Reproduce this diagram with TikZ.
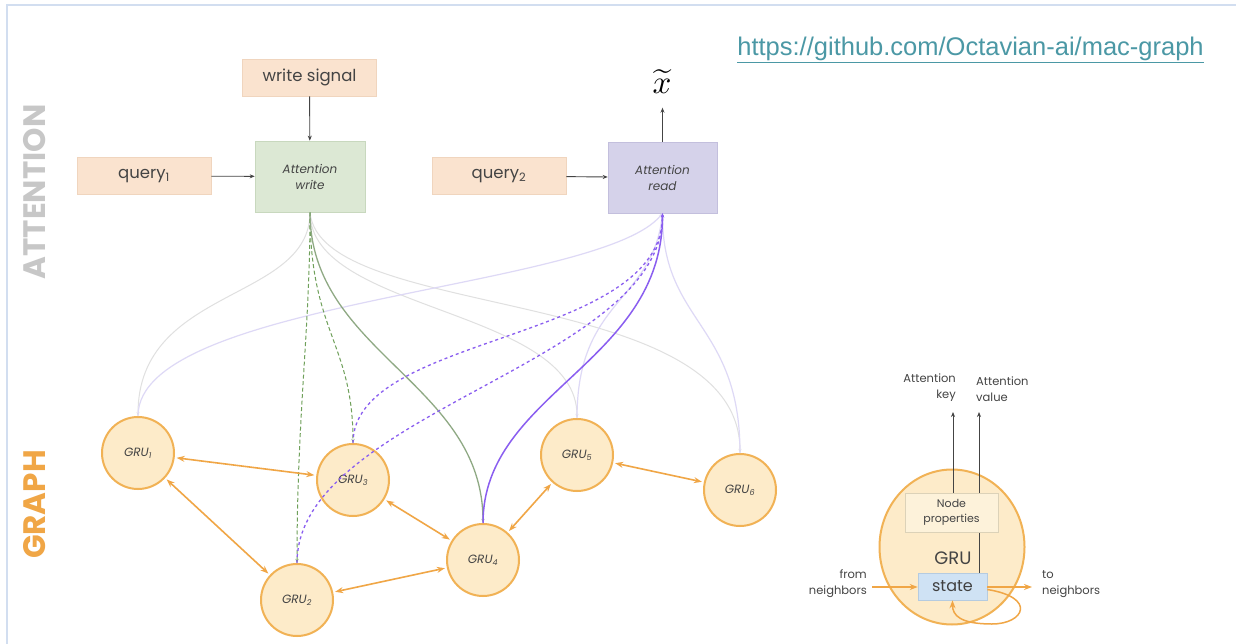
\documentclass[tikz,border=0pt]{standalone}
\usepackage{fontspec}
\setmainfont{Poppins}
\newfontfamily\urlfont{Liberation Sans}
\usetikzlibrary{arrows.meta,shapes.geometric}
\definecolor{peach}{HTML}{FAE3CF}
\definecolor{peachd}{HTML}{F0D5BE}
\definecolor{wgreen}{HTML}{DCE8D4}
\definecolor{wgreend}{HTML}{C8D8BE}
\definecolor{rpurp}{HTML}{D5D2EA}
\definecolor{rpurpd}{HTML}{C3BFDD}
\definecolor{gfill}{HTML}{FDEBC9}
\definecolor{gdraw}{HTML}{F1B255}
\definecolor{orar}{HTML}{F0A646}
\definecolor{lgreen}{HTML}{8FA984}
\definecolor{dgreen}{HTML}{6FA05A}
\definecolor{spurp}{HTML}{8A5EF0}
\definecolor{fgray}{HTML}{E0E0E0}
\definecolor{fpurp}{HTML}{DED9F6}
\definecolor{teal}{HTML}{4B98A5}
\definecolor{frame}{HTML}{D2DEF0}
\definecolor{txt}{HTML}{444444}
\definecolor{npfill}{HTML}{FDF2DA}
\definecolor{npdraw}{HTML}{DCD2B8}
\definecolor{stfill}{HTML}{CFE2F4}
\definecolor{stdraw}{HTML}{B5CBE0}
\newcommand{\sbs}[1]{\textsubscript{#1}}
\tikzset{
  inbox/.style={rectangle, fill=peach, draw=peachd, line width=0.6pt, minimum width=134pt, minimum height=37pt, inner sep=0pt, font=\fontsize{16.5}{18}\selectfont, text=txt},
  attbox/.style={rectangle, line width=0.6pt, minimum width=110pt, minimum height=71pt, inner sep=0pt, align=center, font=\itshape\fontsize{12}{16}\selectfont, text=txt},
  gru/.style={circle, fill=gfill, draw=gdraw, line width=2pt, minimum size=72pt, inner sep=0pt, font=\itshape\fontsize{12}{13}\selectfont, text=txt},
  bidir/.style={draw=orar, line width=1.6pt, {Stealth[length=8pt,width=6pt]}-{Stealth[length=8pt,width=6pt]}, shorten <=2pt, shorten >=2pt},
  tip/.style={-{Stealth[length=4pt,width=3pt]}},
  faintg/.style={draw=fgray, line width=1pt, tip},
  faintp/.style={draw=fpurp, line width=1.2pt, tip},
  dashg/.style={draw=dgreen, line width=1pt, dash pattern=on 4pt off 2.5pt, tip},
  dashp/.style={draw=spurp, line width=1.3pt, dash pattern=on 3pt off 3pt, tip},
  solg/.style={draw=lgreen, line width=1.3pt, tip},
  solp/.style={draw=spurp, line width=1.5pt, tip},
  blk/.style={draw=txt, line width=0.9pt, -{Stealth[length=5pt,width=4pt]}},
  side/.style={font=\bfseries\fontsize{31}{31}\selectfont, rotate=90},
  small/.style={font=\fontsize{11.5}{16}\selectfont, text=txt, inner sep=0pt},
}
\begin{document}
\begin{tikzpicture}[x=1pt,y=-1pt]
\useasboundingbox (0,0) rectangle (1236,644);
\fill[white] (0,0) rectangle (1236,644);
\draw[frame, line width=2pt] (1236,5) -- (7,5) -- (7,644);

% side labels
\node[side, text=black!22] (attl) at (35,192) {ATTENTION};
\node[side, text=orar] (grl) at (35,504.5) {GRAPH};

% URL
\node[font=\urlfont\fontsize{25.5}{28}\selectfont, text=teal, inner sep=0pt] (url) at (970.5,50) {\underline{https://github.com/Octavian-ai/mac-graph}};

% attention boxes
\node[inbox] (ws) at (309.5,77.5) {write signal};
\node[inbox] (q1) at (144,176) {query\sbs{1}};
\node[attbox, fill=wgreen, draw=wgreend] (aw) at (310,176.5) {Attention\\write};
\node[inbox] (q2) at (499,176) {query\sbs{2}};
\node[attbox, fill=rpurp, draw=rpurpd, minimum width=109pt] (ar) at (662.5,177.5) {Attention\\read};
\node[inner sep=0pt] (xt) at (662,82) {\scalebox{3.3}{$\widetilde{x}$}};

\draw[blk] (ws) -- (aw);
\draw[blk] (q1) -- (aw);
\draw[blk] (q2) -- (ar);
\draw[blk] (ar.north) -- ++(0,-34) coordinate (xta);

% GRU nodes
\node[gru] (g1) at (138,453) {GRU\sbs{1}};
\node[gru] (g3) at (353,480) {GRU\sbs{3}};
\node[gru] (g2) at (297,600) {GRU\sbs{2}};
\node[gru] (g4) at (483,560) {GRU\sbs{4}};
\node[gru] (g5) at (577,455) {GRU\sbs{5}};
\node[gru] (g6) at (740,490) {GRU\sbs{6}};

% faint connectors
\draw[faintg] (aw.south) .. controls +(0,90) and +(0,-130) .. (g1.north);
\draw[faintg] (aw.south) .. controls +(0,100) and +(0,-110) .. (g5.north);
\draw[faintg] (aw.south) .. controls +(10,110) and +(0,-170) .. (g6.north);
\draw[faintp] (g1.north) .. controls +(0,-117) and +(-62,77) .. (ar.south);
\draw[faintp] (g5.north) .. controls +(0,-120) and +(-10,90) .. (ar.south);
\draw[faintp] (g6.north) .. controls +(0,-130) and +(0,110) .. (ar.south);

% write connectors
\draw[dashg] (aw.south) .. controls +(0,120) and +(0,-150) .. (g2.north);
\draw[dashg] (aw.south) .. controls +(0,120) and +(0,-100) .. (g3.north);
\draw[solg] (aw.south) .. controls +(0,140) and +(0,-140) .. (g4.north);

% read connectors
\draw[dashp] (g2.north) .. controls +(0,-150) and +(0,150) .. (ar.south);
\draw[dashp] (g3.north) .. controls +(0,-110) and +(0,130) .. (ar.south);
\draw[solp] (g4.north) .. controls +(0,-130) and +(0,150) .. (ar.south);

% graph edges
\draw[bidir] (g1) -- (g3);
\draw[bidir] (g1) -- (g2);
\draw[bidir] (g2) -- (g4);
\draw[bidir] (g3) -- (g4);
\draw[bidir] (g4) -- (g5);
\draw[bidir] (g5) -- (g6);

% GRU detail
\node[ellipse, fill=gfill, draw=gdraw, line width=2pt, minimum width=145pt, minimum height=155pt, inner sep=0pt] (gbig) at (952,547) {};
\node[font=\fontsize{18}{18}\selectfont, text=txt, inner sep=0pt] (grut) at (953,558) {GRU};
\node[rectangle, fill=stfill, draw=stdraw, line width=0.6pt, minimum width=69pt, minimum height=27pt, inner sep=0pt, font=\fontsize{16}{16}\selectfont, text=black!75] (state) at (952.5,586.5) {state};
\coordinate (kt) at (953,412);
\coordinate (vt) at (979,412);
\draw[blk] (state.north -| vt) -- (vt);
\node[rectangle, fill=npfill, draw=npdraw, line width=0.6pt, minimum width=93pt, minimum height=39pt, inner sep=0pt, align=center, font=\fontsize{11}{15}\selectfont, text=txt] (np) at (951.5,512.5) {Node\\properties};
\draw[blk] (np.north -| kt) -- (kt);
\node[small, align=right, anchor=south east] (akl) at (956,402) {Attention\\key};
\node[small, align=left, anchor=south west] (avl) at (976,402) {Attention\\value};
\node[small, align=right, anchor=east] (fnl) at (867,584) {from\\neighbors};
\node[small, align=left, anchor=west] (tnl) at (1042,584) {to\\neighbors};
\coordinate (fa) at (872,587);
\coordinate (ta) at (1032,587);
\coordinate (lp) at (992,624);
\draw[draw=orar, line width=1.5pt, -{Stealth[length=8pt,width=6pt]}] (fa) -- (fa -| state.west);
\draw[draw=orar, line width=1.5pt, -{Stealth[length=8pt,width=6pt]}] (ta -| state.east) -- (ta);
\draw[draw=orar, line width=1.5pt, -{Stealth[length=8pt,width=6pt]}] ([yshift=-3pt]state.east) .. controls +(50,8) and +(32,0) .. (lp) .. controls +(-32,0) and +(0,15) .. (state.south);
\end{tikzpicture}
\end{document}
